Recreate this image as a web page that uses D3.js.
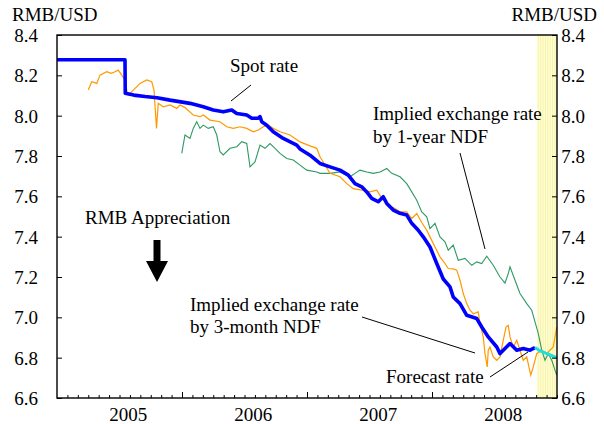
<!DOCTYPE html>
<html>
<head>
<meta charset="utf-8">
<script src="https://cdn.jsdelivr.net/npm/d3@7"></script>
<style>
  body { margin: 0; background: #fff; }
  text { font-family: "Liberation Serif", "Tinos", "Times New Roman", "DejaVu Serif", "Noto Serif", serif; fill: #000; }
</style>
</head>
<body>
<div id="graph"></div>
<script>
// values: [decimal year, RMB per USD]
var spotRate = [
  [2005.000, 8.277], [2005.544, 8.277], [2005.546, 8.111], [2005.614, 8.102], [2005.704, 8.095],
  [2005.800, 8.089], [2005.904, 8.077], [2006.064, 8.061], [2006.170, 8.044], [2006.250, 8.028],
  [2006.330, 8.019], [2006.398, 8.028], [2006.438, 8.011], [2006.518, 8.003], [2006.558, 7.987],
  [2006.610, 7.987], [2006.624, 7.995], [2006.638, 7.970], [2006.678, 7.953], [2006.730, 7.920],
  [2006.810, 7.887], [2006.918, 7.854], [2006.944, 7.835], [2007.024, 7.804], [2007.104, 7.763],
  [2007.184, 7.746], [2007.264, 7.730], [2007.330, 7.705], [2007.384, 7.663], [2007.438, 7.647],
  [2007.478, 7.622], [2007.518, 7.590], [2007.570, 7.573], [2007.610, 7.598], [2007.638, 7.565],
  [2007.690, 7.532], [2007.744, 7.516], [2007.798, 7.507], [2007.838, 7.466], [2007.890, 7.432],
  [2007.930, 7.399], [2007.984, 7.349], [2008.038, 7.267], [2008.090, 7.190], [2008.144, 7.151],
  [2008.170, 7.101], [2008.224, 7.068], [2008.278, 7.010], [2008.358, 6.994], [2008.398, 6.952],
  [2008.450, 6.903], [2008.518, 6.853], [2008.544, 6.820], [2008.570, 6.837], [2008.624, 6.870],
  [2008.678, 6.837], [2008.730, 6.845], [2008.784, 6.837], [2008.824, 6.850]
];

var forecastRate = [
  [2008.824, 6.850], [2008.860, 6.835], [2008.900, 6.825], [2008.950, 6.812], [2009.000, 6.800]
];

var ndf3m = [
  [2005.250, 8.127], [2005.278, 8.168], [2005.318, 8.160], [2005.344, 8.201], [2005.398, 8.218],
  [2005.432, 8.210], [2005.464, 8.218], [2005.490, 8.226], [2005.518, 8.201], [2005.544, 8.177],
  [2005.558, 8.127], [2005.570, 8.102], [2005.610, 8.127], [2005.664, 8.160], [2005.718, 8.177],
  [2005.758, 8.168], [2005.776, 8.127], [2005.796, 7.937], [2005.810, 8.061], [2005.850, 8.044],
  [2005.904, 8.053], [2005.958, 8.036], [2005.984, 8.053], [2006.024, 8.040], [2006.090, 8.003],
  [2006.144, 7.995], [2006.170, 8.003], [2006.224, 7.978], [2006.304, 7.970], [2006.358, 7.945],
  [2006.410, 7.937], [2006.464, 7.945], [2006.518, 7.937], [2006.570, 7.920], [2006.610, 7.929],
  [2006.650, 7.945], [2006.690, 7.953], [2006.730, 7.937], [2006.784, 7.920], [2006.864, 7.904],
  [2006.944, 7.870], [2007.024, 7.850], [2007.078, 7.838], [2007.104, 7.796], [2007.184, 7.714],
  [2007.264, 7.697], [2007.318, 7.663], [2007.370, 7.638], [2007.438, 7.631], [2007.504, 7.622],
  [2007.558, 7.631], [2007.598, 7.590], [2007.650, 7.556], [2007.704, 7.540], [2007.744, 7.523],
  [2007.798, 7.523], [2007.838, 7.490], [2007.878, 7.515], [2007.918, 7.470], [2007.958, 7.432],
  [2007.984, 7.399], [2008.024, 7.349], [2008.064, 7.300], [2008.104, 7.267], [2008.130, 7.242],
  [2008.170, 7.240], [2008.198, 7.234], [2008.224, 7.184], [2008.250, 7.118], [2008.278, 7.068],
  [2008.304, 7.035], [2008.330, 7.018], [2008.370, 7.027], [2008.384, 6.969], [2008.410, 6.903],
  [2008.424, 6.820], [2008.442, 6.754], [2008.450, 6.837], [2008.464, 6.853], [2008.490, 6.804],
  [2008.518, 6.787], [2008.544, 6.804], [2008.570, 6.886], [2008.592, 6.952], [2008.610, 6.960],
  [2008.624, 6.903], [2008.650, 6.853], [2008.678, 6.886], [2008.704, 6.837], [2008.730, 6.787],
  [2008.758, 6.804], [2008.790, 6.713], [2008.810, 6.754], [2008.838, 6.820], [2008.878, 6.837],
  [2008.918, 6.820], [2008.944, 6.837], [2008.970, 6.853], [2008.984, 6.903], [2008.998, 6.952]
];

var ndf1y = [
  [2005.998, 7.813], [2006.024, 7.904], [2006.064, 7.887], [2006.090, 7.937], [2006.118, 7.970],
  [2006.144, 7.937], [2006.170, 7.953], [2006.210, 7.937], [2006.250, 7.945], [2006.278, 7.904],
  [2006.304, 7.821], [2006.330, 7.805], [2006.384, 7.838], [2006.438, 7.846], [2006.478, 7.871],
  [2006.518, 7.862], [2006.544, 7.746], [2006.584, 7.771], [2006.624, 7.854], [2006.664, 7.838],
  [2006.704, 7.862], [2006.744, 7.838], [2006.784, 7.813], [2006.838, 7.788], [2006.890, 7.780],
  [2006.944, 7.755], [2006.998, 7.730], [2007.078, 7.721], [2007.104, 7.714], [2007.184, 7.714],
  [2007.264, 7.721], [2007.344, 7.697], [2007.384, 7.714], [2007.424, 7.730], [2007.478, 7.721],
  [2007.530, 7.714], [2007.584, 7.721], [2007.638, 7.738], [2007.678, 7.714], [2007.744, 7.697],
  [2007.798, 7.663], [2007.838, 7.622], [2007.878, 7.581], [2007.918, 7.523], [2007.958, 7.498],
  [2007.984, 7.440], [2008.024, 7.466], [2008.064, 7.399], [2008.104, 7.374], [2008.130, 7.333],
  [2008.170, 7.358], [2008.210, 7.283], [2008.264, 7.292], [2008.318, 7.258], [2008.358, 7.275],
  [2008.398, 7.267], [2008.438, 7.303], [2008.490, 7.258], [2008.544, 7.200], [2008.584, 7.170],
  [2008.610, 7.217], [2008.624, 7.250], [2008.664, 7.184], [2008.704, 7.118], [2008.758, 7.068],
  [2008.798, 7.035], [2008.824, 6.977], [2008.850, 6.920], [2008.878, 6.837], [2008.904, 6.787],
  [2008.930, 6.820], [2008.958, 6.787], [2008.984, 6.738], [2008.998, 6.713]
];

var forecastPeriod = [2008.84, 2009.0];
var yTicks = [6.6, 6.8, 7.0, 7.2, 7.4, 7.6, 7.8, 8.0, 8.2, 8.4];
var yearLabels = ["2005", "2006", "2007", "2008"];

function drawChart() {
  var W = 604, H = 424;
  var mLeft = 57, mRight = 557, mTop = 35, mBottom = 398;
  var fontSize = "19px";

  var svg = d3.select("#graph").append("svg")
    .attr("width", W)
    .attr("height", H);

  var x = d3.scaleLinear().domain([2005, 2009]).range([mLeft, mRight]);
  var y = d3.scaleLinear().domain([6.6, 8.4]).range([mBottom, mTop]);

  // forecast period shading
  svg.append("rect")
    .attr("x", x(forecastPeriod[0]))
    .attr("y", mTop)
    .attr("width", x(forecastPeriod[1]) - x(forecastPeriod[0]))
    .attr("height", mBottom - mTop)
    .attr("fill", "#ffffcc");
  svg.selectAll(".stripe")
    .data(d3.range(forecastPeriod[0] + 0.01, forecastPeriod[1], 7 / 365))
    .enter().append("line")
    .attr("class", "stripe")
    .attr("x1", d => x(d)).attr("x2", d => x(d))
    .attr("y1", mTop).attr("y2", mBottom)
    .attr("stroke", "#f4eeae")
    .attr("stroke-width", 0.8);

  var line = d3.line()
    .x(d => x(d[0]))
    .y(d => y(d[1]));

  svg.append("path").datum(ndf1y)
    .attr("d", line).attr("fill", "none")
    .attr("stroke", "#2f9964").attr("stroke-width", 1.1);

  svg.append("path").datum(ndf3m)
    .attr("d", line).attr("fill", "none")
    .attr("stroke", "#ff9900").attr("stroke-width", 1.2);

  svg.append("path").datum(spotRate)
    .attr("d", line).attr("fill", "none")
    .attr("stroke", "#0000ff").attr("stroke-width", 3.6)
    .attr("stroke-linejoin", "round");

  svg.append("path").datum(forecastRate)
    .attr("d", line).attr("fill", "none")
    .attr("stroke", "#22dddd").attr("stroke-width", 3);

  // axes, ticks point inward
  var yLeft = svg.append("g")
    .attr("transform", "translate(" + mLeft + ",0)")
    .call(d3.axisLeft(y).tickValues(yTicks).tickSize(-5).tickFormat(d3.format(".1f")));
  yLeft.selectAll("text").attr("x", -31).attr("text-anchor", "middle");

  var yRight = svg.append("g")
    .attr("transform", "translate(" + mRight + ",0)")
    .call(d3.axisRight(y).tickValues(yTicks).tickSize(-5).tickFormat(d3.format(".1f")));
  yRight.selectAll("text").attr("x", 16).attr("text-anchor", "middle");

  var months = d3.range(2005 + 1 / 12, 2009, 1 / 12);
  svg.append("g")
    .attr("transform", "translate(0," + mBottom + ")")
    .call(d3.axisBottom(x).tickValues(months).tickSize(-3).tickFormat(""));
  svg.append("g")
    .attr("transform", "translate(0," + mBottom + ")")
    .call(d3.axisBottom(x).tickValues([2006, 2007, 2008]).tickSize(-6).tickFormat(""));

  svg.selectAll(".domain").remove();
  svg.selectAll(".tick line").attr("stroke", "#000").attr("stroke-width", 1);
  svg.selectAll("g").attr("font-family", null).attr("font-size", null);
  svg.selectAll(".tick text")
    .attr("fill", "#000")
    .style("font-size", fontSize)
    .attr("dy", "0.34em").attr("y", 0);

  svg.append("rect")
    .attr("x", mLeft).attr("y", mTop)
    .attr("width", mRight - mLeft).attr("height", mBottom - mTop)
    .attr("fill", "none").attr("stroke", "#000").attr("stroke-width", 1.4);

  svg.selectAll(".year")
    .data(yearLabels)
    .enter().append("text")
    .attr("class", "year")
    .attr("x", d => x(+d + 0.57))
    .attr("y", 421)
    .attr("text-anchor", "middle")
    .style("font-size", fontSize)
    .text(d => d);

  function label(txt, lx, ly, anchor) {
    svg.append("text")
      .attr("x", lx).attr("y", ly)
      .attr("text-anchor", anchor || "start")
      .style("font-size", fontSize)
      .text(txt);
  }

  label("RMB/USD", 12, 21);
  label("RMB/USD", 597, 21, "end");
  label("Spot rate", 230, 72);
  label("Implied exchange rate", 373, 120);
  label("by 1-year NDF", 373, 143);
  label("RMB Appreciation", 85, 224);
  label("Implied exchange rate", 190, 311);
  label("by 3-month NDF", 190, 333);
  label("Forecast rate", 386, 383);

  var leaders = [
    [231, 101, 251, 85],
    [460, 153, 485, 249],
    [362, 317, 475, 353],
    [490, 377, 528, 352]
  ];
  svg.selectAll(".leader")
    .data(leaders)
    .enter().append("line")
    .attr("x1", d => d[0]).attr("y1", d => d[1])
    .attr("x2", d => d[2]).attr("y2", d => d[3])
    .attr("stroke", "#000").attr("stroke-width", 1);

  // appreciation arrow
  svg.append("path")
    .attr("d", "M153.5,240 L160.5,240 L160.5,261 L168,261 L157,282 L146,261 L153.5,261 Z")
    .attr("fill", "#000");
}

drawChart();
</script>
</body>
</html>
